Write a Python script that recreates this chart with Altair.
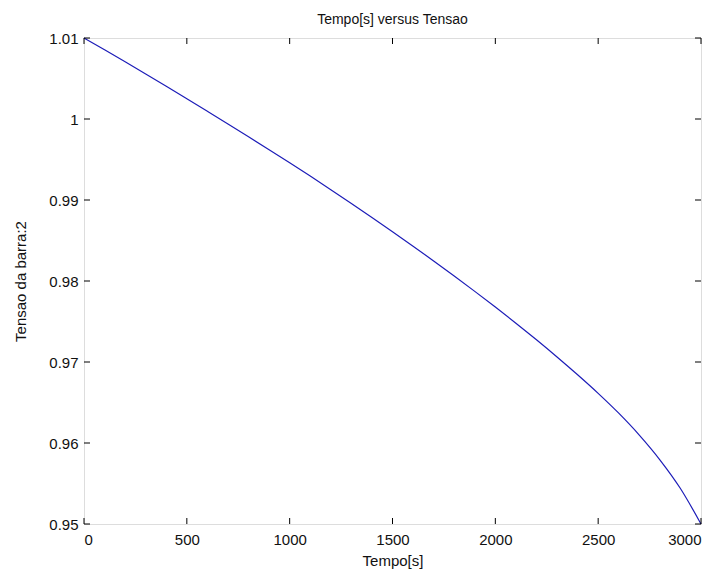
import altair as alt
import pandas as pd

tempo = [0, 100, 200, 300, 400, 500, 600, 700, 800, 900, 1000, 1100, 1200, 1300, 1400, 1500,
         1600, 1700, 1800, 1900, 2000, 2100, 2200, 2300, 2400, 2500, 2600, 2700, 2800, 2900, 3000]
tensao = [1.01000, 1.00854, 1.00706, 1.00556, 1.00404, 1.00250, 1.00095, 0.99939, 0.99781, 0.99621,
          0.99459, 0.99295, 0.99128, 0.98958, 0.98785, 0.98609, 0.98430, 0.98248, 0.98062, 0.97872,
          0.97678, 0.97479, 0.97274, 0.97062, 0.96842, 0.96613, 0.96368, 0.96098, 0.95793, 0.95438,
          0.95000]

x_ticks = [0, 500, 1000, 1500, 2000, 2500, 3000]
y_ticks = [0.95, 0.96, 0.97, 0.98, 0.99, 1.00, 1.01]

W, H = 617, 486
FONT = "Liberation Sans"

df = pd.DataFrame({"t": tempo, "v": tensao})
dx = pd.DataFrame({"t": x_ticks})
dy = pd.DataFrame({"v": y_ticks})

xs = alt.Scale(domain=[0, 3000], nice=False, zero=False)
ys = alt.Scale(domain=[0.95, 1.01], nice=False, zero=False)

line = alt.Chart(df).mark_line(color="#1c1cb8", strokeWidth=1.2, interpolate="monotone").encode(
    x=alt.X("t:Q", scale=xs, title="Tempo[s]",
            axis=alt.Axis(values=x_ticks, ticks=False, domain=False, grid=False,
                          labelFontSize=15, labelPadding=8, titleFontSize=15,
                          titleFontWeight="normal", titlePadding=6, labelFont=FONT, titleFont=FONT,
                          labelColor="#111", titleColor="#111", format="d")),
    y=alt.Y("v:Q", scale=ys, title="Tensao da barra:2",
            axis=alt.Axis(values=y_ticks, ticks=False, domain=False, grid=False,
                          labelFontSize=15, labelPadding=6, titleFontSize=15,
                          titleFontWeight="normal", titlePadding=20, labelFont=FONT, titleFont=FONT,
                          labelColor="#111", titleColor="#111",
                          labelExpr="format(datum.value, '.2~f')")),
)

TL = 6
bx = alt.Chart(dx).mark_rule(color="#000", strokeWidth=1).encode(
    x=alt.X("t:Q", scale=xs), y=alt.value(H), y2=alt.value(H - TL))
tx = alt.Chart(dx).mark_rule(color="#000", strokeWidth=1).encode(
    x=alt.X("t:Q", scale=xs), y=alt.value(0), y2=alt.value(TL))
ly = alt.Chart(dy).mark_rule(color="#000", strokeWidth=1).encode(
    y=alt.Y("v:Q", scale=ys), x=alt.value(0), x2=alt.value(TL))
ry = alt.Chart(dy).mark_rule(color="#000", strokeWidth=1).encode(
    y=alt.Y("v:Q", scale=ys), x=alt.value(W), x2=alt.value(W - TL))

chart = alt.layer(line, bx, tx, ly, ry).properties(
    width=W, height=H,
    title=alt.TitleParams("Tempo[s] versus Tensao", fontSize=14, fontWeight="normal",
                          font=FONT, color="#111", offset=4),
    autosize=alt.AutoSizeParams(type="none"),
    padding={"left": 84, "top": 38, "right": 23, "bottom": 60},
).configure_view(stroke="#000", strokeWidth=1).configure(background="white")

chart.save("out.html", embed_options={"renderer": "svg", "actions": False})
